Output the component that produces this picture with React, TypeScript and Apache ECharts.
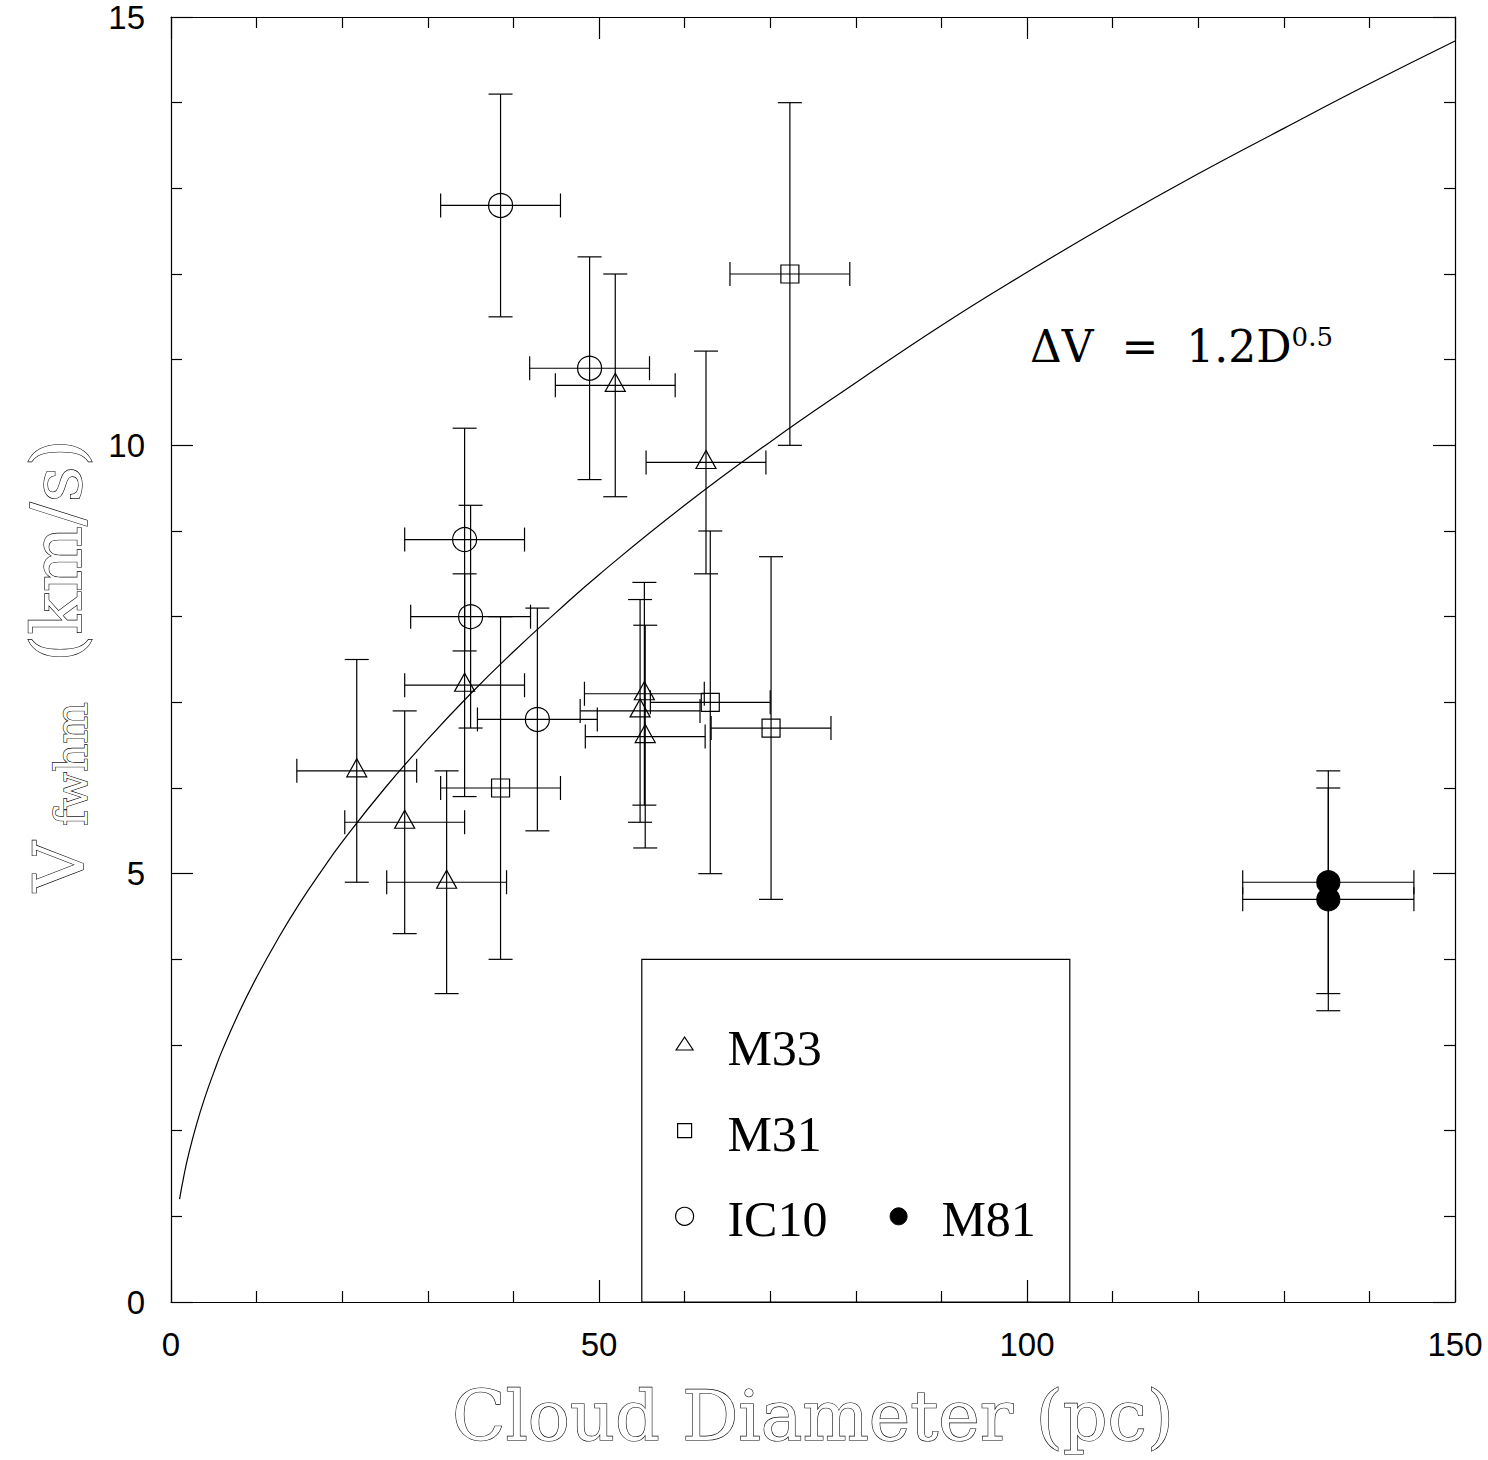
import React, { useEffect, useRef } from "react";
import * as echarts from "echarts";

const xRange = [0, 150];
const yRange = [0, 15];
const xMajorStep = 50;
const yMajorStep = 5;

// rows: [cloud diameter (pc), V_fwhm (km/s), ±diameter, ±V]
const m33Data = [
  [21.7, 6.2, 7, 1.3],
  [27.3, 5.6, 7, 1.3],
  [32.2, 4.9, 7, 1.3],
  [34.3, 7.2, 7, 1.3],
  [51.9, 10.7, 7, 1.3],
  [62.5, 9.8, 7, 1.3],
  [55.3, 7.1, 7, 1.3],
  [54.8, 6.9, 7, 1.3],
  [55.4, 6.6, 7, 1.3],
];
const m31Data = [
  [72.3, 12.0, 7, 2],
  [63.0, 7.0, 7, 2],
  [70.1, 6.7, 7, 2],
  [38.5, 6.0, 7, 2],
];
const ic10Data = [
  [38.5, 12.8, 7, 1.3],
  [48.9, 10.9, 7, 1.3],
  [34.3, 8.9, 7, 1.3],
  [35.0, 8.0, 7, 1.3],
  [42.8, 6.8, 7, 1.3],
];
const m81Data = [
  [135.2, 4.9, 10, 1.3],
  [135.2, 4.7, 10, 1.3],
];

// fitted relation dV = 1.2 D^0.5
const fitCurve = [
  [1, 1.2], [1.5, 1.47], [2, 1.7], [3, 2.08], [4, 2.4], [5, 2.68], [6, 2.94],
  [8, 3.39], [10, 3.79], [12.5, 4.24], [15, 4.65], [17.5, 5.02], [20, 5.37],
  [25, 6.0], [30, 6.57], [35, 7.1], [40, 7.59], [45, 8.05], [50, 8.49],
  [60, 9.3], [70, 10.04], [80, 10.73], [90, 11.4], [100, 12.02], [110, 12.61],
  [120, 13.17], [130, 13.7], [140, 14.22], [150, 14.72],
];

const legendFrame = { x0: 55, x1: 105, y0: 0, y1: 4 };
const legendItems = [
  { label: "M33", symbol: "triangle", x: 60, y: 3, tx: 65 },
  { label: "M31", symbol: "square", x: 60, y: 2, tx: 65 },
  { label: "IC10", symbol: "circle", x: 60, y: 1, tx: 65 },
  { label: "M81", symbol: "dot", x: 85, y: 1, tx: 90 },
];

const xTitle = "Cloud Diameter (pc)";
const yTitleMain = "V";
const yTitleSub = "fwhm";
const yTitleUnit = "(km/s)";
const fitLabel = "ΔV  =  1.2D";
const fitExp = "0.5";

const G = { left: 171, top: 17, width: 1284, height: 1285 };
const px = (x: number) => G.left + ((x - xRange[0]) / (xRange[1] - xRange[0])) * G.width;
const py = (y: number) => G.top + ((yRange[1] - y) / (yRange[1] - yRange[0])) * G.height;

const BLACK = "#000";

function errorBars(data: number[][]) {
  return {
    type: "custom",
    data,
    silent: true,
    z: 2,
    encode: { x: 0, y: 1 },
    renderItem: (_p: any, api: any) => {
      const x = api.value(0), y = api.value(1), dx = api.value(2), dy = api.value(3);
      const l = api.coord([x - dx, y]);
      const r = api.coord([x + dx, y]);
      const t = api.coord([x, y + dy]);
      const b = api.coord([x, y - dy]);
      const c = 12;
      const st = { stroke: BLACK, lineWidth: 1.2, fill: null };
      return {
        type: "group",
        children: [
          { type: "line", shape: { x1: l[0], y1: l[1], x2: r[0], y2: r[1] }, style: st },
          { type: "line", shape: { x1: t[0], y1: t[1], x2: b[0], y2: b[1] }, style: st },
          { type: "line", shape: { x1: l[0], y1: l[1] - c, x2: l[0], y2: l[1] + c }, style: st },
          { type: "line", shape: { x1: r[0], y1: r[1] - c, x2: r[0], y2: r[1] + c }, style: st },
          { type: "line", shape: { x1: t[0] - c, y1: t[1], x2: t[0] + c, y2: t[1] }, style: st },
          { type: "line", shape: { x1: b[0] - c, y1: b[1], x2: b[0] + c, y2: b[1] }, style: st },
        ],
      };
    },
  };
}

function markers(data: number[][], symbol: string, size: any, filled: boolean, offset?: number[]) {
  return {
    type: "scatter",
    data: data.map((d) => [d[0], d[1]]),
    symbol,
    symbolSize: size,
    symbolOffset: offset || [0, 0],
    silent: true,
    z: 3,
    itemStyle: {
      color: filled ? BLACK : "rgba(0,0,0,0)",
      borderColor: BLACK,
      borderWidth: 1.2,
      opacity: 1,
    },
  };
}

const axisCommon = {
  type: "value",
  axisLine: { show: true, onZero: false, lineStyle: { color: BLACK, width: 1.2 } },
  axisTick: { show: true, inside: true, length: 22, lineStyle: { color: BLACK, width: 1.2 } },
  minorTick: { show: true, splitNumber: 5, length: 11, lineStyle: { color: BLACK, width: 1.2 } },
  splitLine: { show: false },
  minorSplitLine: { show: false },
};

const tickFont = { fontSize: 33, fontFamily: "Liberation Sans", color: BLACK };

function buildGraphics() {
  const g: any[] = [];
  g.push({
    type: "rect",
    shape: {
      x: px(legendFrame.x0),
      y: py(legendFrame.y1),
      width: px(legendFrame.x1) - px(legendFrame.x0),
      height: py(legendFrame.y0) - py(legendFrame.y1),
    },
    style: { stroke: BLACK, lineWidth: 1.2, fill: null },
    silent: true,
  });
  legendItems.forEach((it) => {
    const cx = px(it.x), cy = py(it.y);
    const st = { stroke: BLACK, lineWidth: 1.2, fill: null };
    if (it.symbol === "triangle") {
      g.push({ type: "polygon", shape: { points: [[cx, cy - 8], [cx + 8.5, cy + 5], [cx - 8.5, cy + 5]] }, style: st });
    } else if (it.symbol === "square") {
      g.push({ type: "rect", shape: { x: cx - 7, y: cy - 7, width: 14, height: 14 }, style: st });
    } else if (it.symbol === "circle") {
      g.push({ type: "circle", shape: { cx, cy, r: 9 }, style: st });
    } else {
      g.push({ type: "circle", shape: { cx, cy, r: 8.5 }, style: { fill: BLACK, stroke: BLACK, lineWidth: 1 } });
    }
    g.push({
      type: "text",
      x: px(it.tx),
      y: cy + 3,
      style: {
        text: it.label,
        fontFamily: "Liberation Serif",
        fontSize: 50,
        fill: BLACK,
        align: "left",
        verticalAlign: "middle",
      },
    });
  });
  // fit relation label
  g.push({
    type: "text",
    x: 1030,
    y: 346,
    style: {
      text: `{a|${fitLabel}}{b|${fitExp}}`,
      align: "left",
      verticalAlign: "middle",
      rich: {
        a: { fontFamily: "DejaVu Serif", fontSize: 44, fill: BLACK, color: BLACK },
        b: { fontFamily: "DejaVu Serif", fontSize: 26, fill: BLACK, color: BLACK, verticalAlign: "top" },
      },
    },
  });
  const hollow = { fill: "#fff", stroke: BLACK, lineWidth: 1.2, fontFamily: "DejaVu Serif" };
  g.push({
    type: "text",
    x: (px(xRange[0]) + px(xRange[1])) / 2,
    y: 1416,
    style: { ...hollow, text: xTitle, fontSize: 70, align: "center", verticalAlign: "middle" },
  });
  g.push({
    type: "group",
    x: 80,
    y: 892,
    rotation: Math.PI / 2,
    children: [
      { type: "text", x: 0, y: -21, style: { ...hollow, text: yTitleMain, fontSize: 70, align: "left", verticalAlign: "middle" } },
      { type: "text", x: 66, y: -9, style: { ...hollow, text: yTitleSub, fontSize: 44, align: "left", verticalAlign: "middle" } },
      { type: "text", x: 230, y: -23, style: { ...hollow, text: yTitleUnit, fontSize: 70, align: "left", verticalAlign: "middle" } },
    ],
  });
  return g;
}

export default function App() {
  const ref = useRef<HTMLDivElement>(null);
  useEffect(() => {
    document.body.style.margin = "0";
    const chart = echarts.init(ref.current!, null, { renderer: "svg" });
    chart.setOption({
      animation: false,
      backgroundColor: "#fff",
      grid: { left: G.left, top: G.top, width: G.width, height: G.height, containLabel: false },
      xAxis: [
        {
          ...axisCommon,
          min: xRange[0], max: xRange[1], interval: xMajorStep, position: "bottom",
          axisLabel: { ...tickFont, margin: 26 },
        },
        {
          ...axisCommon,
          min: xRange[0], max: xRange[1], interval: xMajorStep, position: "top",
          axisLabel: { show: false },
        },
      ],
      yAxis: [
        {
          ...axisCommon,
          min: yRange[0], max: yRange[1], interval: yMajorStep, position: "left",
          axisLabel: { ...tickFont, margin: 26 },
        },
        {
          ...axisCommon,
          min: yRange[0], max: yRange[1], interval: yMajorStep, position: "right",
          axisLabel: { show: false },
        },
      ],
      series: [
        {
          type: "line",
          data: fitCurve,
          smooth: true,
          showSymbol: false,
          symbol: "none",
          silent: true,
          z: 1,
          lineStyle: { color: BLACK, width: 1.2 },
        },
        errorBars(m33Data),
        errorBars(m31Data),
        errorBars(ic10Data),
        errorBars(m81Data),
        markers(m33Data, "triangle", [20, 18], false, [0, -3]),
        markers(m31Data, "rect", 18, false),
        markers(ic10Data, "circle", 24, false),
        markers(m81Data, "circle", 23, true),
      ],
      graphic: buildGraphics(),
    });
    return () => chart.dispose();
  }, []);
  return <div ref={ref} style={{ width: 1488, height: 1460 }} />;
}
